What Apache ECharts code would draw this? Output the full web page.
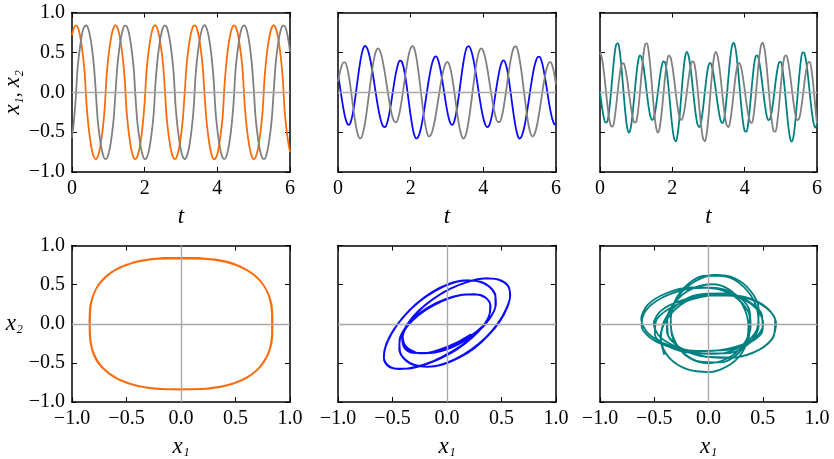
<!DOCTYPE html>
<html><head><meta charset="utf-8">
<script src="https://cdn.jsdelivr.net/npm/echarts@6/dist/echarts.min.js"></script>
<style>html,body{margin:0;padding:0;background:#fff}#c{width:834px;height:459px}</style>
</head><body><div id="c"></div>
<script>
// sample times (t axis of the top row)
const TIME = [
0,0.05,0.1,0.15,0.2,0.25,0.3,0.35,0.4,0.45,
0.5,0.55,0.6,0.65,0.7,0.75,0.8,0.85,0.9,0.95,
1,1.05,1.1,1.15,1.2,1.25,1.3,1.35,1.4,1.45,
1.5,1.55,1.6,1.65,1.7,1.75,1.8,1.85,1.9,1.95,
2,2.05,2.1,2.15,2.2,2.25,2.3,2.35,2.4,2.45,
2.5,2.55,2.6,2.65,2.7,2.75,2.8,2.85,2.9,2.95,
3,3.05,3.1,3.15,3.2,3.25,3.3,3.35,3.4,3.45,
3.5,3.55,3.6,3.65,3.7,3.75,3.8,3.85,3.9,3.95,
4,4.05,4.1,4.15,4.2,4.25,4.3,4.35,4.4,4.45,
4.5,4.55,4.6,4.65,4.7,4.75,4.8,4.85,4.9,4.95,
5,5.05,5.1,5.15,5.2,5.25,5.3,5.35,5.4,5.45,
5.5,5.55,5.6,5.65,5.7,5.75,5.8,5.85,5.9,5.95,
6];
// case 1 (orange)
const X1_A = [
.714,.802,.839,.822,.755,.636,.467,.237,-.152,-.409,
-.594,-.727,-.809,-.840,-.817,-.744,-.618,-.443,-.201,.189,
.434,.612,.740,.815,.840,.811,.731,.600,.417,.166,
-.224,-.458,-.630,-.751,-.821,-.839,-.804,-.719,-.581,-.391,
-.126,.257,.482,.648,.763,.827,.838,.797,.704,.561,
.382,.077,-.288,-.504,-.664,-.773,-.830,-.836,-.788,-.690,
-.540,-.337,-.019,.318,.526,.682,.782,.835,.834,.779,
.677,.519,.307,-.039,-.347,-.549,-.696,-.792,-.837,-.829,
-.776,-.659,-.498,-.285,.098,.374,.569,.709,.799,.839,
.825,.759,.641,.474,.250,-.140,-.401,-.589,-.723,-.807,
-.840,-.820,-.748,-.624,-.451,-.212,.179,.428,.606,.736,
.814,.840,.813,.736,.605,.426,.178,-.214,-.452,-.625,
-.749];
const X2_A = [
-.568,-.373,-.097,.278,.497,.659,.776,.829,.837,.792,
.695,.549,.346,.039,-.308,-.519,-.677,-.779,-.834,-.835,
-.782,-.682,-.526,-.318,.019,.337,.540,.690,.788,.836,
.830,.773,.664,.504,.288,-.078,-.382,-.561,-.704,-.797,
-.838,-.827,-.763,-.648,-.482,-.257,.126,.391,.581,.719,
.804,.839,.821,.751,.630,.458,.224,-.166,-.417,-.600,
-.731,-.811,-.840,-.815,-.740,-.612,-.434,-.189,.201,.443,
.618,.744,.817,.840,.809,.727,.594,.409,.152,-.236,
-.467,-.636,-.755,-.822,-.839,-.802,-.714,-.575,-.380,-.114,
.273,.490,.654,.773,.828,.837,.794,.700,.557,.356,
.058,-.299,-.512,-.671,-.776,-.832,-.836,-.785,-.685,-.533,
-.327,.001,.328,.534,.685,.786,.836,.831,.776,.670,
.511];
// case 2 (blue)
const X1_B = [
.222,.079,-.069,-.208,-.319,-.389,-.410,-.374,-.283,-.148,
.017,.188,.347,.475,.556,.580,.553,.486,.382,.254,
.107,-.041,-.182,-.298,-.384,-.432,-.436,-.389,-.296,-.168,
-.020,.128,.256,.349,.396,.389,.323,.204,.048,-.125,
-.294,-.437,-.536,-.579,-.566,-.509,-.414,-.287,-.141,.011,
.157,.284,.379,.436,.449,.413,.330,.208,.065,-.084,
-.221,-.328,-.394,-.409,-.366,-.268,-.125,.041,.214,.370,
.494,.565,.578,.542,.467,.356,.219,.070,-.079,-.216,
-.327,-.402,-.438,-.427,-.365,-.259,-.124,.025,.168,.287,
.368,.400,.376,.295,.164,.005,-.168,-.329,-.460,-.550,
-.580,-.557,-.490,-.386,-.253,-.104,.049,.193,.314,.396,
.444,.444,.395,.303,.177,.035,-.111,-.240,-.337,-.398,
-.407];
const X2_B = [
.134,.247,.330,.374,.372,.312,.198,.046,-.126,-.292,
-.437,-.536,-.579,-.562,-.488,-.368,-.209,-.033,.145,.309,
.438,.522,.550,.526,.456,.347,.212,.063,-.084,-.213,
-.311,-.368,-.377,-.334,-.243,-.112,.042,.205,.353,.476,
.552,.580,.547,.454,.306,.128,-.065,-.249,-.403,-.508,
-.554,-.540,-.483,-.386,-.260,-.116,.028,.163,.272,.347,
.379,.361,.287,.163,.010,-.159,-.321,-.455,-.544,-.580,
-.556,-.476,-.348,-.187,-.006,.173,.331,.456,.532,.549,
.516,.437,.322,.182,.033,-.112,-.234,-.327,-.373,-.373,
-.318,-.213,-.069,.092,.255,.400,.508,.569,.575,.520,
.410,.258,.078,-.108,-.283,-.423,-.518,-.555,-.534,-.467,
-.360,-.224,-.073,.079,.209,.309,.368,.377,.332,.236,
.099];
const PHASE_B_X2 = [
-.134,-.247,-.330,-.374,-.372,-.312,-.198,-.046,.126,.292,
.437,.536,.579,.562,.488,.368,.209,.033,-.145,-.309,
-.438,-.522,-.550,-.526,-.456,-.347,-.212,-.063,.084,.213,
.311,.368,.377,.334,.243,.112,-.042,-.205,-.353,-.476,
-.552,-.580,-.547,-.454,-.306,-.128,.065,.249,.403,.508,
.554,.540,.483,.386,.260,.116,-.028,-.163,-.272,-.347,
-.379,-.361,-.287,-.163,-.010,.159,.321,.455,.544,.580,
.556,.476,.348,.187,.006,-.173,-.331,-.456,-.532,-.549,
-.516,-.437,-.322,-.182,-.033,.112,.234,.327,.373,.373,
.318,.213,.069,-.092,-.255,-.400,-.508,-.569,-.575,-.520,
-.410,-.258,-.078,.108,.283,.423,.518,.555,.534,.467,
.360,.224,.073,-.079,-.209,-.309,-.368,-.377,-.332,-.236,
-.099];
// case 3 (teal)
const X1_C = [
-.002,-.170,-.303,-.380,-.374,-.246,-.024,.234,.465,.601,
.614,.497,.276,.005,-.253,-.439,-.505,-.445,-.277,-.044,
.193,.377,.462,.437,.329,.162,-.027,-.198,-.314,-.349,
-.299,-.175,-.004,.171,.315,.388,.373,.247,.036,-.212,
-.434,-.581,-.617,-.519,-.305,-.029,.240,.435,.505,.455,
.317,.119,-.096,-.286,-.408,-.438,-.363,-.199,.007,.203,
.335,.368,.315,.194,.033,-.138,-.283,-.371,-.384,-.281,
-.073,.182,.421,.582,.623,.540,.358,.112,-.146,-.360,
-.484,-.494,-.380,-.168,.084,.310,.446,.463,.387,.241,
.058,-.126,-.274,-.348,-.338,-.240,-.076,.112,.273,.373,
.380,.276,.078,-.164,-.395,-.561,-.620,-.553,-.369,-.110,
.161,.382,.499,.492,.386,.206,-.011,-.219,-.373,-.443,
-.408];
const X2_C = [
.503,.434,.282,.076,-.139,-.319,-.422,-.431,-.336,-.160,
.049,.237,.350,.364,.296,.165,-.002,-.170,-.303,-.380,
-.374,-.246,-.024,.234,.465,.601,.614,.497,.276,.005,
-.253,-.439,-.505,-.445,-.277,-.044,.193,.377,.462,.437,
.329,.162,-.027,-.198,-.314,-.349,-.299,-.175,-.004,.171,
.315,.388,.373,.247,.036,-.212,-.434,-.581,-.617,-.519,
-.305,-.029,.240,.435,.505,.455,.317,.119,-.096,-.286,
-.408,-.438,-.363,-.199,.007,.203,.335,.368,.315,.194,
.033,-.138,-.283,-.371,-.384,-.281,-.073,.182,.421,.582,
.623,.540,.358,.112,-.146,-.360,-.484,-.494,-.380,-.168,
.084,.310,.446,.463,.387,.241,.058,-.126,-.274,-.348,
-.338,-.240,-.076,.112,.273,.373,.380,.276,.078,-.164,
-.395];

const T_TICK_LABELS = ['0','2','4','6'];
const X_TICK_LABELS = ['\u22121.0','\u22120.5','0.0','0.5','1.0'];
const Y_TICK_LABELS = ['\u22121.0','\u22120.5','0.0','0.5','1.0'];

const COLORS = ['#fa6c0c', '#0a0aff', '#008080'];
const GRAY = '#808080';
const ZERO = '#a8a8a8';
const FONT = 'Liberation Serif';

const timeCases = [[X1_A, X2_A], [X1_B, X2_B], [X1_C, X2_C]];
const phaseCases = [[X1_A, X2_A], [X1_B, PHASE_B_X2], [X1_C, X2_C]];
const colLeft = [72, 338, 600];
const colWidth = [218, 218, 217];

const grids = [], xAxes = [], yAxes = [], series = [];

function labelFn(labels, min, step) {
  return function (v) { return labels[Math.round((v - min) / step)] || ''; };
}
function axisBase(g, min, max, step) {
  return {
    type: 'value', gridIndex: g, min: min, max: max, interval: step,
    axisLine: { show: true, onZero: false, lineStyle: { color: '#000', width: 1.5 } },
    axisTick: { show: true, inside: true, length: 5, lineStyle: { color: '#000', width: 1 } },
    splitLine: { show: false }
  };
}
const nameRich = {
  i: { fontFamily: FONT, fontStyle: 'italic', fontSize: 23, color: '#000' },
  s: { fontFamily: FONT, fontSize: 20, color: '#000' }
};
const nameStyle = { fontFamily: FONT, fontStyle: 'italic', fontSize: 23, color: '#000', rich: nameRich };

for (let row = 0; row < 2; row++) {
  for (let col = 0; col < 3; col++) {
    const g = row * 3 + col;
    grids.push({ left: colLeft[col], width: colWidth[col], top: row === 0 ? 12.5 : 245.5, height: row === 0 ? 159.5 : 159 });
    const xMin = row === 0 ? 0 : -1, xMax = row === 0 ? 6 : 1, xStep = row === 0 ? 2 : 0.5;
    const xLabels = row === 0 ? T_TICK_LABELS : X_TICK_LABELS;
    const xb = axisBase(g, xMin, xMax, xStep);
    xb.position = 'bottom';
    xb.axisLabel = { show: true, margin: 7, fontFamily: FONT, fontSize: 20, color: '#000', showMinLabel: true, showMaxLabel: true, formatter: labelFn(xLabels, xMin, xStep) };
    xb.name = row === 0 ? '{i|t}' : '{i|x}{s|\u2081}';
    xb.nameLocation = 'middle';
    xb.nameGap = 33;
    xb.nameTextStyle = nameStyle;
    xAxes.push(xb);
    const xt = axisBase(g, xMin, xMax, xStep);
    xt.position = 'top';
    xt.axisLabel = { show: false };
    xAxes.push(xt);

    const yl = axisBase(g, -1, 1, 0.5);
    yl.position = 'left';
    yl.axisLabel = { show: col === 0, margin: 7, fontFamily: FONT, fontSize: 20, color: '#000', showMinLabel: true, showMaxLabel: true, formatter: labelFn(Y_TICK_LABELS, -1, 0.5) };
    if (col === 0) {
      yl.name = row === 0 ? '{i|x}{s|\u2081, }{i|x}{s|\u2082}' : '{i|x}{s|\u2082}';
      yl.nameLocation = 'middle';
      yl.nameGap = row === 0 ? 44 : 49;
      yl.nameRotate = row === 0 ? 90 : 0;
      yl.nameTextStyle = nameStyle;
    }
    yAxes.push(yl);
    const yr = axisBase(g, -1, 1, 0.5);
    yr.position = 'right';
    yr.axisLabel = { show: false };
    yAxes.push(yr);

    const zeroData = row === 0 ? [{ yAxis: 0 }] : [{ yAxis: 0 }, { xAxis: 0 }];
    const markLine = { silent: true, symbol: ['none', 'none'], animation: false, label: { show: false },
      lineStyle: { color: ZERO, width: 1.4, type: 'solid' }, data: zeroData };
    if (row === 0) {
      const [x1, x2] = timeCases[col];
      series.push({ type: 'line', xAxisIndex: 2 * g, yAxisIndex: 2 * g, showSymbol: false, smooth: 0.3,
        lineStyle: { color: COLORS[col], width: 1.8 }, itemStyle: { color: COLORS[col] },
        data: TIME.map((t, i) => [t, x1[i]]), markLine: markLine, z: 2 });
      series.push({ type: 'line', xAxisIndex: 2 * g, yAxisIndex: 2 * g, showSymbol: false, smooth: 0.3,
        lineStyle: { color: GRAY, width: 1.8 }, itemStyle: { color: GRAY },
        data: TIME.map((t, i) => [t, x2[i]]), z: 3 });
    } else {
      const [p1, p2] = phaseCases[col];
      series.push({ type: 'line', xAxisIndex: 2 * g, yAxisIndex: 2 * g, showSymbol: false, smooth: 0.3,
        lineStyle: { color: COLORS[col], width: 1.8 }, itemStyle: { color: COLORS[col] },
        data: p1.map((v, i) => [v, p2[i]]), markLine: markLine, z: 2 });
    }
  }
}

const chart = echarts.init(document.getElementById('c'), null, { renderer: 'canvas' });
chart.setOption({ animation: false, backgroundColor: '#fff', grid: grids, xAxis: xAxes, yAxis: yAxes, series: series });
</script></body></html>
